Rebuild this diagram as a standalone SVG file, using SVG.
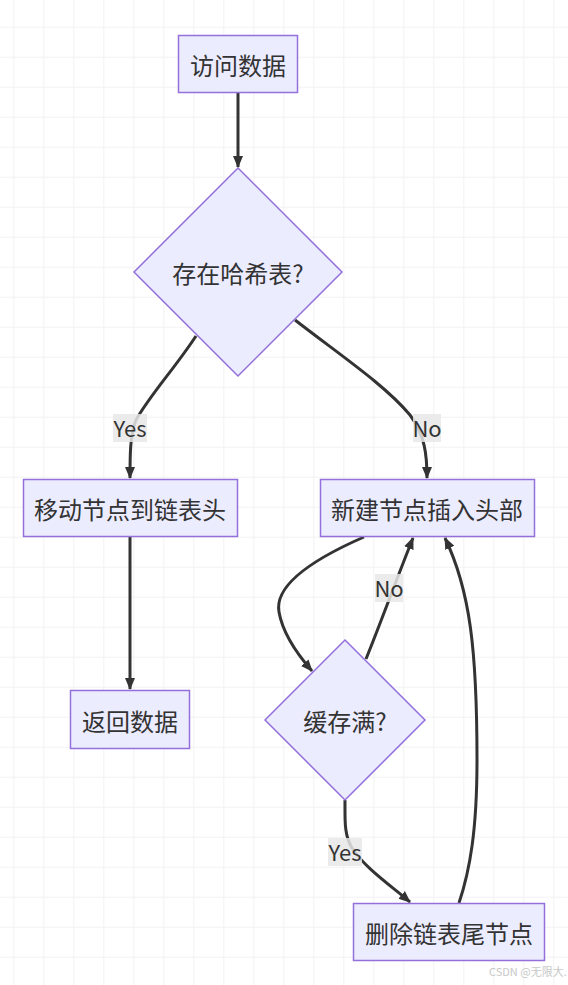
<svg xmlns="http://www.w3.org/2000/svg" width="568" height="985" viewBox="0 0 568 985">
<defs>
<pattern id="grid" patternUnits="userSpaceOnUse" x="13.3" y="26.7" width="30" height="30">
<path d="M0,0.5 H30 M0.5,0 V30" fill="none" stroke="#f2f2f2" stroke-width="1"/>
</pattern>
<marker id="arrow" markerUnits="userSpaceOnUse" viewBox="0 0 12 12" refX="11" refY="6" markerWidth="12" markerHeight="12" orient="auto">
<path d="M0,1 L12,6 L0,11 z" fill="#333"/>
</marker>
</defs>
<style>
.node rect, .node polygon { fill: #ECECFF; stroke: #9370DB; stroke-width: 1.5; }
.node text { font-family: "Noto Sans CJK SC", "Noto Sans", sans-serif; font-size: 24px; fill: #333; text-anchor: middle; dominant-baseline: central; }
.edge { fill: none; stroke: #333; stroke-width: 3; marker-end: url(#arrow); }
.lbl rect { fill: #e8e8e8; fill-opacity: 0.85; }
.lbl text { font-family: "Noto Sans CJK SC", "Noto Sans", sans-serif; font-size: 22px; fill: #333; text-anchor: middle; dominant-baseline: central; }
.wm { font-family: "Noto Sans CJK SC", "Noto Sans", sans-serif; font-size: 11px; fill: #c8c8c8; }
</style>
<rect x="0" y="0" width="568" height="985" fill="#ffffff"/>
<rect x="0" y="0" width="568" height="985" fill="url(#grid)"/>

<g id="connectors">
<path class="edge" d="M238,92 L238,167"/>
<path class="edge" d="M196,336 C175,368 150,395 136,420 C130,435 130,455 130,478"/>
<path class="edge" d="M295,320 C340,355 385,385 410,415 C425,435 427,455 427,478"/>
<path class="edge" d="M130,537 L130,689"/>
<path class="edge" d="M364,537 C300,565 275,590 279,612 C283,635 298,655 312,671"/>
<path class="edge" d="M366,659 C378,630 400,570 413,538"/>
<path class="edge" d="M345,800 C345,820 344,835 352,848 C365,868 390,885 410,902"/>
<path class="edge" d="M459,903 C470,870 477,830 477,760 C477,650 470,590 445,538"/>
<g class="lbl"><rect x="113" y="414" width="34" height="28"/><text x="130" y="427">Yes</text></g>
<g class="lbl"><rect x="413" y="414" width="28" height="28"/><text x="427" y="427">No</text></g>
<g class="lbl"><rect x="375" y="574" width="28" height="28"/><text x="389" y="587">No</text></g>
<g class="lbl"><rect x="328" y="838" width="34" height="28"/><text x="345" y="851">Yes</text></g>
</g>

<g id="n1" class="node"><rect x="178.5" y="35.5" width="119" height="57"/><text x="238" y="64">访问数据</text></g>
<g id="n2" class="node"><polygon points="238,168 342,272 238,376 134,272"/><text x="238" y="272">存在哈希表?</text></g>
<g id="n3" class="node"><rect x="23.5" y="479.5" width="214" height="57"/><text x="130" y="508">移动节点到链表头</text></g>
<g id="n4" class="node"><rect x="320.5" y="479.5" width="214" height="57"/><text x="427" y="508">新建节点插入头部</text></g>
<g id="n5" class="node"><rect x="70.5" y="690.5" width="119" height="58"/><text x="130" y="720">返回数据</text></g>
<g id="n6" class="node"><polygon points="345,640 425,720 345,800 265,720"/><text x="345" y="720">缓存满?</text></g>
<g id="n7" class="node"><rect x="353.5" y="903.5" width="191" height="57"/><text x="449" y="932">删除链表尾节点</text></g>

<text class="wm" x="489" y="976">CSDN @无限大.</text>
</svg>
